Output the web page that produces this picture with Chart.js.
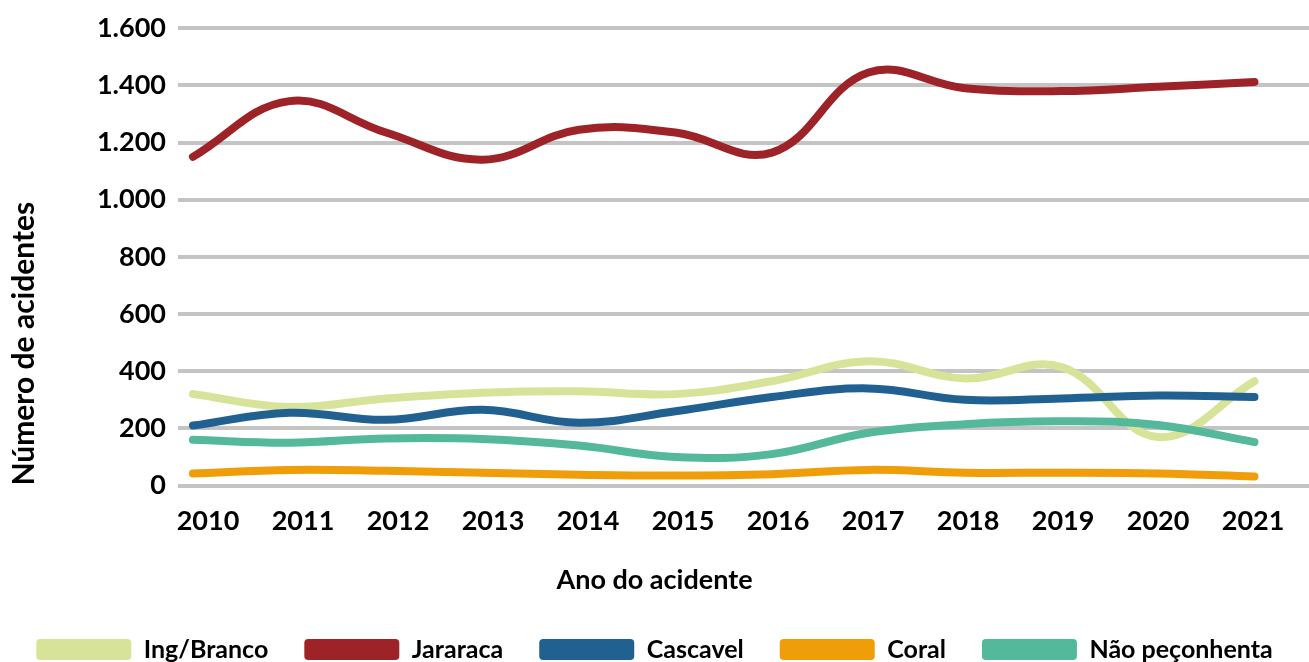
<!DOCTYPE html>
<html>
<head>
<meta charset="utf-8">
<script src="https://cdn.jsdelivr.net/npm/chart.js@4"></script>
<style>
  html, body { margin: 0; padding: 0; background: #fff; }
  #wrap { width: 1309px; height: 662px; }
</style>
</head>
<body>
<div id="wrap"><canvas id="chart"></canvas></div>
<script>
const years = [2010, 2011, 2012, 2013, 2014, 2015, 2016, 2017, 2018, 2019, 2020, 2021];

const ingBranco = [320, 275, 305, 325, 330, 320, 365, 435, 375, 415, 170, 365];
const jararaca = [1150, 1345, 1235, 1140, 1245, 1235, 1165, 1445, 1390, 1380, 1395, 1412];
const cascavel = [210, 255, 230, 265, 220, 260, 310, 340, 300, 305, 315, 310];
const coral = [42, 55, 52, 45, 38, 35, 40, 55, 45, 45, 42, 32];
const naoPeconhenta = [160, 150, 165, 163, 140, 100, 110, 185, 215, 225, 212, 152];

const seriesNames = ["Ing/Branco", "Jararaca", "Cascavel", "Coral", "Não peçonhenta"];
const seriesColors = ["#d8e39a", "#9e2328", "#216192", "#ef9d08", "#54b89b"];
const seriesValues = [ingBranco, jararaca, cascavel, coral, naoPeconhenta];

const font = "Lato, 'Open Sans', sans-serif";

const datasets = seriesValues.map((vals, i) => ({
	label: seriesNames[i],
	data: vals.map((v, k) => ({ x: years[k], y: v })),
	borderColor: seriesColors[i],
	backgroundColor: seriesColors[i],
	borderWidth: 8,
	borderCapStyle: "round",
	borderJoinStyle: "round",
	pointRadius: 0,
	tension: 0.4,
	order: seriesValues.length - i
}));

const formatThousands = (v) => String(v).replace(/\B(?=(\d{3})+(?!\d))/g, ".");
const yearTicks = (axis) => { axis.ticks = years.map(v => ({ value: v })); };

new Chart(document.getElementById("chart"), {
	type: "line",
	data: { datasets: datasets },
	options: {
		responsive: true,
		maintainAspectRatio: false,
		animation: false,
		layout: { padding: { top: 22, right: 0, bottom: 0, left: 0 } },
		plugins: {
			tooltip: { enabled: false },
			// x axis title, centred on the whole canvas like the original
			title: {
				display: true,
				position: "bottom",
				weight: 500,
				fullSize: true,
				text: "Ano do acidente",
				color: "#000",
				padding: { top: 23, bottom: 5 },
				font: { family: font, size: 27, weight: "bold" }
			},
			legend: {
				position: "bottom",
				maxHeight: 61,
				labels: {
					boxWidth: 95,
					boxHeight: 21,
					padding: 36,
					color: "#000",
					useBorderRadius: true,
					borderRadius: 4,
					font: { family: font, size: 25, weight: "bold" },
					sort: (a, b) => a.datasetIndex - b.datasetIndex,
					generateLabels: (chart) => {
						const items = Chart.defaults.plugins.legend.labels.generateLabels(chart);
						items.forEach(it => {
							it.lineWidth = 0;
							it.fillStyle = seriesColors[it.datasetIndex];
						});
						return items;
					}
				}
			}
		},
		scales: {
			// data positions
			x: {
				type: "linear",
				display: false,
				min: 2009.845,
				max: 2021.565
			},
			// year labels, spaced a bit tighter as in the original
			xLabels: {
				type: "linear",
				position: "bottom",
				min: 2009.684,
				max: 2021.589,
				afterBuildTicks: yearTicks,
				afterFit: (axis) => { axis.height = 55; },
				grid: { display: false },
				border: { display: false },
				ticks: {
					color: "#000",
					padding: 11,
					autoSkip: false,
					maxRotation: 0,
					font: { family: font, size: 27, weight: "bold" },
					callback: (v) => String(v)
				}
			},
			y: {
				min: 0,
				max: 1600,
				afterFit: (axis) => { axis.width = 178; },
				grid: { color: "#c4c4c4", lineWidth: 4, drawTicks: false },
				border: { display: false },
				ticks: {
					stepSize: 200,
					color: "#000",
					padding: 12,
					font: { family: font, size: 27, weight: "bold" },
					callback: (v) => formatThousands(v)
				},
				title: {
					display: true,
					text: "Número de acidentes",
					align: "start",
					color: "#000",
					padding: { top: 6, bottom: 0 },
					font: { family: font, size: 30, weight: "bold" }
				}
			}
		}
	}
});
</script>
</body>
</html>
